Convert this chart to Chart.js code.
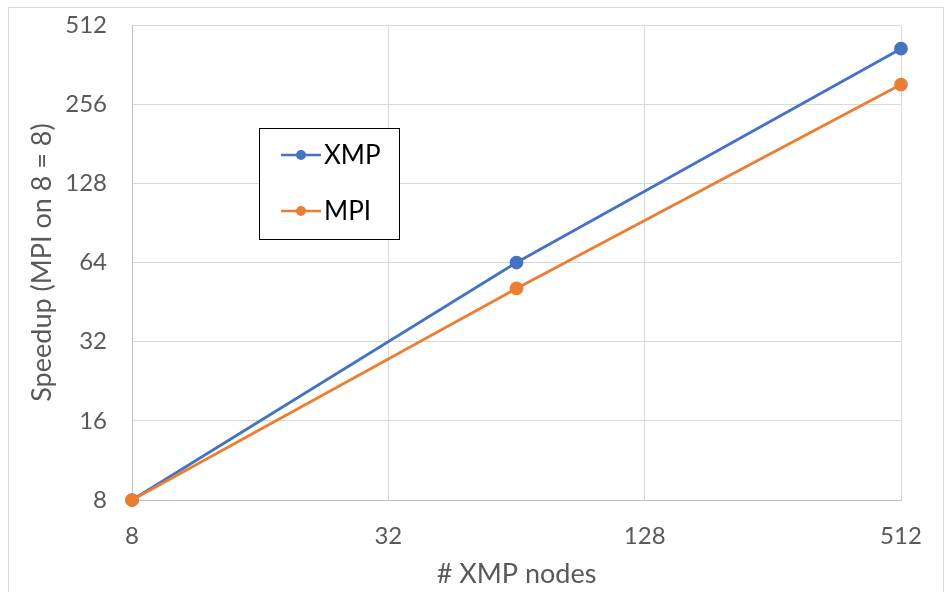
<!DOCTYPE html>
<html>
<head>
<meta charset="utf-8">
<script src="https://cdn.jsdelivr.net/npm/chart.js@4/dist/chart.umd.min.js"></script>
<style>
  html, body { margin: 0; padding: 0; background: #ffffff; }
  #wrap { position: relative; width: 946px; height: 592px; }
</style>
</head>
<body>
<div id="wrap"><canvas id="c" width="946" height="592"></canvas></div>
<script>
// Node counts and measured speedups
const nodes = [8, 64, 512];
const xmpSpeedup = [8, 64, 416];
const mpiSpeedup = [8, 51, 304];
const xTicks = [8, 32, 128, 512];
const yTicks = [8, 16, 32, 64, 128, 256, 512];

const seriesNames = ['XMP', 'MPI'];
const seriesColors = ['#4472C4', '#ED7D31'];

const FONT = 'Lato, "Open Sans", sans-serif';
const GREY_TEXT = '#595959';

const toPoints = (ys) => nodes.map((n, i) => ({ x: n, y: ys[i] }));

// Outer frame around the whole chart
const framePlugin = {
  id: 'frame',
  beforeDraw(chart) {
    const ctx = chart.ctx;
    ctx.save();
    ctx.fillStyle = '#ffffff';
    ctx.fillRect(0, 0, chart.width, chart.height);
    ctx.strokeStyle = '#d9d9d9';
    ctx.lineWidth = 1;
    ctx.strokeRect(8.5, 7.5, 935, 620);
    ctx.restore();
  }
};

// Boxed legend inside the plot area
const boxLegendPlugin = {
  id: 'boxLegend',
  afterDraw(chart) {
    const ctx = chart.ctx;
    const box = { x: 259.5, y: 128.5, w: 140, h: 111 };
    ctx.save();
    ctx.fillStyle = '#ffffff';
    ctx.fillRect(box.x, box.y, box.w, box.h);
    ctx.strokeStyle = '#000000';
    ctx.lineWidth = 1;
    ctx.strokeRect(box.x, box.y, box.w, box.h);
    const rows = [155, 211];
    chart.data.datasets.forEach((ds, i) => {
      const y = rows[i];
      ctx.strokeStyle = ds.borderColor;
      ctx.lineWidth = 2.5;
      ctx.beginPath();
      ctx.moveTo(281, y);
      ctx.lineTo(321, y);
      ctx.stroke();
      ctx.fillStyle = ds.borderColor;
      ctx.beginPath();
      ctx.arc(301, y, 5, 0, Math.PI * 2);
      ctx.fill();
      ctx.fillStyle = '#000000';
      ctx.font = '26px ' + FONT;
      ctx.textBaseline = 'middle';
      ctx.textAlign = 'left';
      ctx.fillText(ds.label, 324, y + 1);
    });
    ctx.restore();
  }
};

new Chart(document.getElementById('c'), {
  type: 'scatter',
  data: {
    datasets: [
      {
        label: seriesNames[0],
        data: toPoints(xmpSpeedup),
        borderColor: seriesColors[0],
        backgroundColor: seriesColors[0],
        showLine: true,
        borderWidth: 2.75,
        pointRadius: 5.5,
        pointHoverRadius: 5.5,
        clip: false,
        order: 2
      },
      {
        label: seriesNames[1],
        data: toPoints(mpiSpeedup),
        borderColor: seriesColors[1],
        backgroundColor: seriesColors[1],
        showLine: true,
        borderWidth: 2.75,
        pointRadius: 5.5,
        pointHoverRadius: 5.5,
        clip: false,
        order: 1
      }
    ]
  },
  options: {
    responsive: false,
    animation: false,
    layout: { padding: { left: 0, right: 45, top: 25, bottom: 0 } },
    plugins: {
      legend: { display: false },
      title: { display: false },
      tooltip: { enabled: false }
    },
    scales: {
      x: {
        type: 'logarithmic',
        min: 8,
        max: 512,
        afterBuildTicks: (s) => { s.ticks = xTicks.map(v => ({ value: v })); },
        afterFit: (s) => { s.height = 92; s.paddingLeft = 0; s.paddingRight = 0; s.paddingTop = 0; s.paddingBottom = 0; },
        ticks: {
          color: GREY_TEXT,
          font: { family: FONT, size: 24 },
          padding: 22,
          maxRotation: 0,
          autoSkip: false,
          callback: (v) => String(v)
        },
        grid: { color: '#d9d9d9', lineWidth: 1, drawTicks: false },
        border: { color: '#bfbfbf', width: 1 },
        title: {
          display: true,
          text: '# XMP nodes',
          color: GREY_TEXT,
          font: { family: FONT, size: 27 },
          padding: { top: 0, bottom: 2 }
        }
      },
      y: {
        type: 'logarithmic',
        min: 8,
        max: 512,
        afterBuildTicks: (s) => { s.ticks = yTicks.map(v => ({ value: v })); },
        afterFit: (s) => { s.width = 132; s.paddingTop = 0; s.paddingBottom = 0; s.paddingLeft = 0; s.paddingRight = 0; },
        ticks: {
          color: GREY_TEXT,
          font: { family: FONT, size: 24 },
          padding: 25,
          autoSkip: false,
          callback: (v) => String(v)
        },
        grid: { color: '#d9d9d9', lineWidth: 1, drawTicks: false },
        border: { color: '#bfbfbf', width: 1 },
        title: {
          display: true,
          text: 'Speedup (MPI on 8 = 8)',
          color: GREY_TEXT,
          font: { family: FONT, size: 27 },
          padding: { top: 26, bottom: 0 }
        }
      }
    }
  },
  plugins: [framePlugin, boxLegendPlugin]
});
</script>
</body>
</html>
